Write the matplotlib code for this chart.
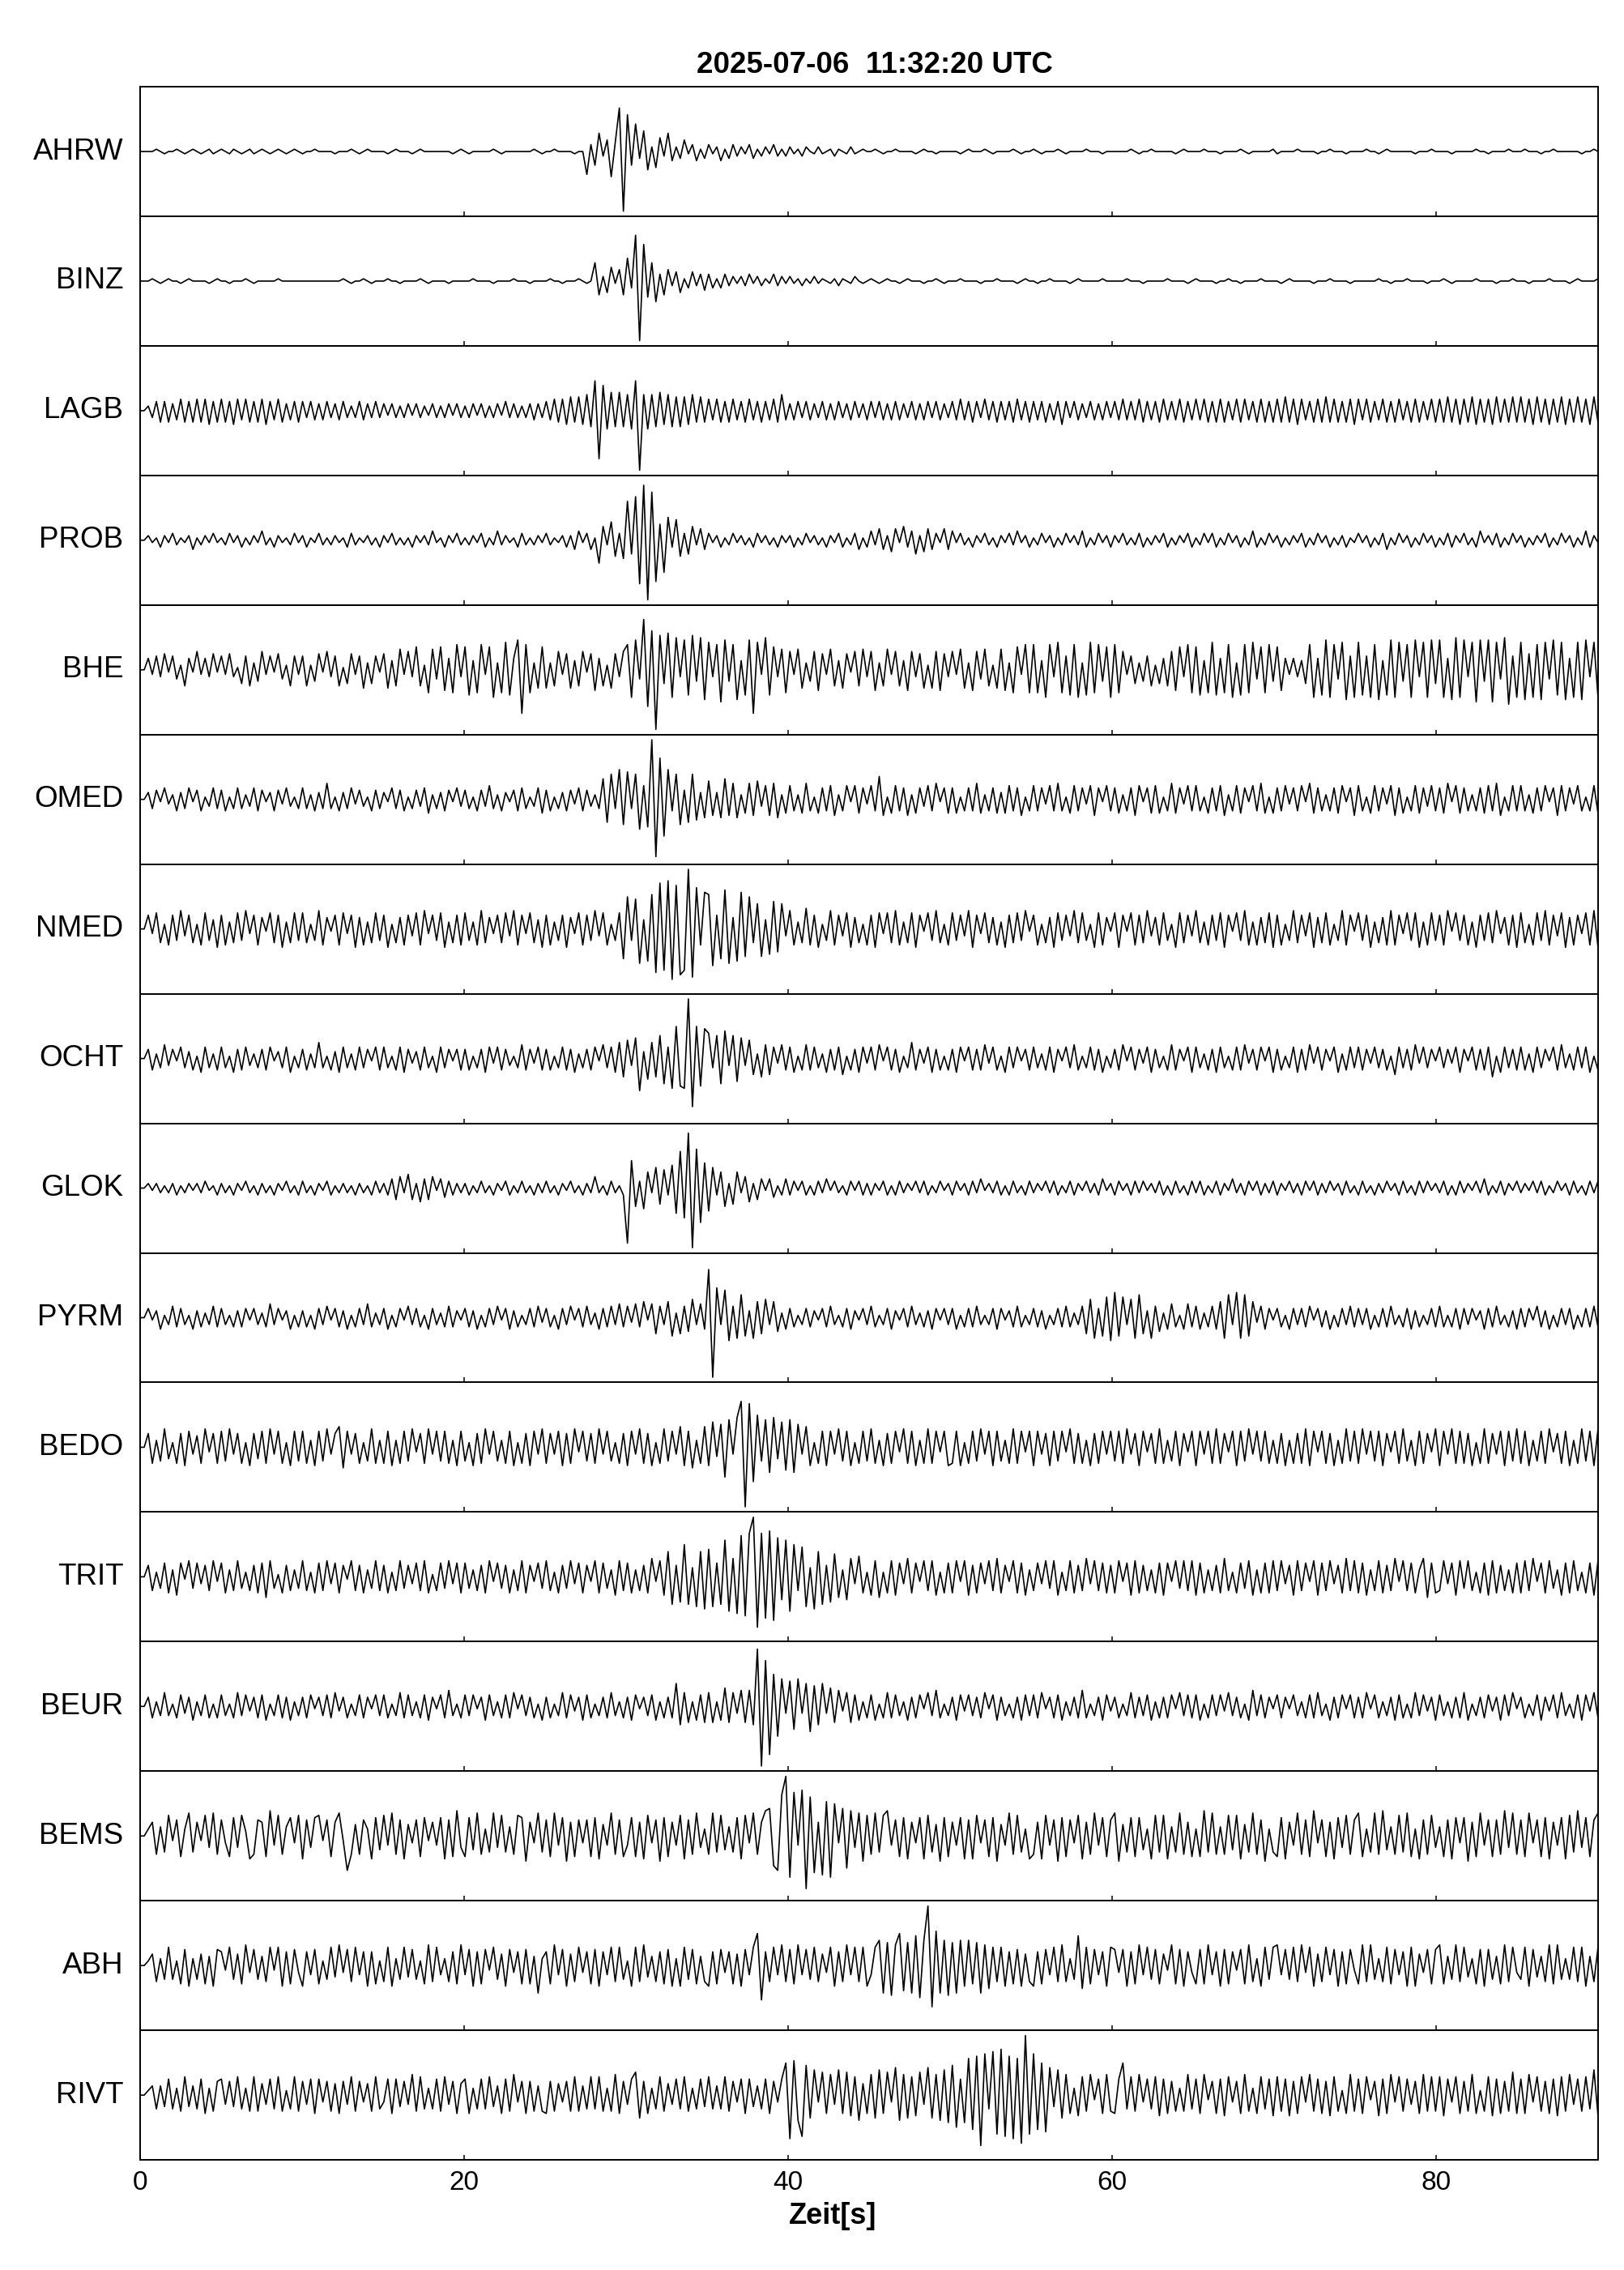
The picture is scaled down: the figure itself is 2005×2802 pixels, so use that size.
import numpy as np
import matplotlib
matplotlib.use('Agg')
import matplotlib.pyplot as plt

plt.rcParams['font.family'] = ['Liberation Sans', 'DejaVu Sans']

# record section, 0.25 s per sample, 20 samples per block
# '0' = 0, 'A'..'Z' = +1..+26, 'a'..'z' = -1..-26 (relative amplitude)
title = '2025-07-06  11:32:20 UTC'
xlabel = 'Zeit[s]'
xticks = [0, 20, 40, 60, 80]
tmax = 90

stations = ['AHRW', 'BINZ', 'LAGB', 'PROB', 'BHE', 'OMED', 'NMED', 'OCHT',
            'GLOK', 'PYRM', 'BEDO', 'TRIT', 'BEUR', 'BEMS', 'ABH', 'RIVT']

ahrw = ("0000A0a00A0a0A0a0Aa0 A0aA0a0Aa0A0a0A0a0A0 a00A0000a000A0a0A000 0a0A000a0A0000000a0A "
        "0a00000A0a0000000A0a 00A0000a00jCfHbEkDSz PfLcIhBgFbHdBcEaCdAc CaBdAcCbBaCcAbBaCbAb "
        "BaAbB0aBa0AbA0aBa0A0 0A0a00A0000a0A00a000 00a0A000A0a0000A0a00 A0a000A0a0000A000a00 "
        "0000A0a00A00000a0A00 00A000a0000A0a00000A a0000A0000a00A000a00 00A00a0A000000a000A0 "
        "000a00000A00a0000A00 0A000a00A000000a00A0")
binz = ("000A0a0A00a0A0000a0A 00a000A0a00000A00000 0000000000A0a00A0a00 0A00a0000A0a0000a000 "
        "00A0000a0000A000a000 0A00a000A0a0HfBeFaEf JcTzPgHiCfEbDeAcDbCd CcAcCbBaBbCaBbAaCbBa "
        "BaAbAaBaA0aAbA0aB0a0 A0a0A00a0A000a00A0a0 00A0000a000A0000a0A0 0a00A0000a0A00000A00 "
        "000A000a00000A0000a0 A0000a00A00a0000A000 0a0A00000a000A0000a0 00000A00a000A0000a00 "
        "0A0a00000A0000a000A0 00a0000A0000a0A0000A")
lagb = ("00BcDeDeCdEeDeEeEfDe EeDfEdEeDeEfDdEeCdDe DcDdCdDcCdDcBcDdCcDc CbCcBcCbCcBbCcBcCbCc "
        "BcCbCcBcCbDcCcBcCdCc DdEeEfFeFfGgMuKhHgHg GhMzGhGgHfGgFgFfGeFe EdEeDeEdDeEdDeDdEeGd "
        "CdDcDdCcDdCdDcCdDcCd DcDdCdDdCcDdCdDcDdCc DdEdDeDcEdDeDdDeEdDe DdDeCdDfDcDdCcDdCdDc "
        "DdEdDdEeDdDeEdDdEeDd EdEeDeEeDdEeEdDeEeDe EeFeEfEdDeEeFeEeDeEf EdEeDdEeDeEdDeEeDdEe "
        "EeFeEfEeFfEeEfFeEeFe FeEfFeEfEeFfEeFeEfFe")
prob = ("00BaAcBaCbAaBdAbBaCa AbCaBcAbBaDbAcBaAbCa BcAaCbAbBaAcCbAaBbAc BaCbAbAcBaBbDaAcBaCb "
        "AbBaCcAbDbBaAcCbAbBa CbAaBcBdDaCdAjFbHgCh QfSsXzUrGnJcIgCfFbEd CaBcAbCaBbAcCaBbAcBa "
        "BcAbCaBbAcBaCcAbCdAc DbEdBeEaFcDfBeEdCaEd DaCbAcBaCbAcBaCbDaBc AbCaBcAbCaBbDcAbCaBc "
        "BaCbAbCcAbBaCcAbBaCc AbCaCcAbCaBcAbDcAbCa BcAbBaCcAbCaBcAbBcAa CaBcAbCdAbCaBcAbCaBc "
        "AbCcBaCbAcDaBbCcAbCa BcAbBaCcAbCaBcAbDcBa")
bhe = ("00EbFcGaFdBgEaHbEcGa FbGcAfFgCeHbFaGdBgFb FgBeGaHcFgAfGbFhCfFa GhDgIbHcJgBjIdJiEjKc "
       "JkDjKbJlCjLkEMsKjChJ hCgHbGhDgHaGiEgBhGcH KlMdVpQzOfPlNcMkOeNm LcKnMeKmDkMsLbNkJcIj "
       "HbIhCeHiGbIgDhGaHgIc HiCgIbHgDiHcGhBhHiGc HbIhCiHdIgBhIiCjJbKj KjDlKcLjFkKlCkLjKeJl "
       "KjHbFfCeFgBfEgHiJcKj JkDjLkEjKlCkKjLdJjKe JiEbEcDfKlEkMlKdLmFl LkFlKmDkMlLeKlMcLlMf "
       "MlEmNlMcLnMeMnLdNoFl LmGlKmLdMkLmElLmMcLl")
omed = ("00CdDaEbBeCdEaDeAcEd DeAdEdBcEeDaCeDbEcAd EdBeCdGdAeCdEbDcAeDd CaEdDeAdDcEfBdCeDaEc "
        "DdAeDcFdBeCaDeEdAcEf DeAdCeDbEeDcBdIjKdMk LdKmFlZyRpMeKkDjKiCh HgChIgGhBfGgHcFgGhBf "
        "FeBfGeAfEeFgBeFaFfEb FeJgAfFeEgBfEcFeGaEf EfAeEeGfBeEfCfFeEgAe FeEbFeGeAfFeEbFgEaFe "
        "EfBeEgFaEfFfAeGfEbFe FeAfEeFgBeFfEaFeGfAf EeFbEeFaGfEeBeEfFaEg FeAfFeEbFgEfAeFfEcFe "
        "EfGaFfEeBeEfFeGgAeFe FeBfEeFaEgFeEbFeAeFf")
nmed = ("00FbGfBgFeHcFfBgGeDh FgCfGeHbFgEaGfFhCfGe GfBeHgEaFgGbFhEgCfGe FhBfEgFcGgHbFeGhCfFg "
        "GeCgHfEbFfGcHgFbGfDh FgCeFhEbGgFeHcGgBeGm NeMoDnOsTrUvStrZuRgP OpFmQoEnPlNfKlDkLjKc "
        "HgCfIgFhBeHgFcGhEfBg FhGbGfHgCfGhFaGeHfBg GeFcHhFbGfEgChFfGeHa FgBfEhGeFcHfGeBhGgEa "
        "GhFaGgFfHcEgGeBhGfFc HfCgFeGhFaGeHgCgEfGh FgBeHfFcGhEfGgBeHgFa GeFhCfEgHgFbGeGhCgGe "
        "FgHaGeFgChFeGfHbEgFh GfBgGeHgFcGhEgFbGgHh")
ocht = ("00DeBdFcDaEdCeAfEdBe EdAfDeEcBdDeEaCdEfAd DeBdGdAeCfEdBeEdDaEe EdAeEfDbCeEdAfEdDaDe "
        "DeAdDfEbEeDcAdFeDbEe DeAdEeDfBdDeEaFdEfGh HcInCiGhJkEmNlmZuNlM KdJkLcJjIcHgBhFgEbFe "
        "EfAeFeEdBfDeEgAeDfEb EeFaEeDfAdGeDbEfDeAe DfEaEeDeFbEeAfEdEaDe EdBeEfDaEdFeAdEeDfAd "
        "DeFaEeDbEfDdAeFeDaEf EdBeDfEdAeEeFbDeEaEf DeAdEfDeFbEeDaEfBeEd EeDbEdDeAgEdDeFbEdDa "
        "EdDbEfDaEeDeEhAfEdDe EeBfEdDaEeFdBeEdEfAe")
glok = ("00BaBbAbBcAbBaBbCaAc BbAcBaCbAcBbAcBaCbAc CbAcBaCcAbBbAcBbAcCb BcDeEbFeBfDeEaDdCcBb "
        "BcAbCbAcBaCcAbCbAcBb CbAcBaCbAcBbEbAcCbAc xLhCiGbIgHcJkPmXzQoK jIcGhBgGbEfBeDaDdAcD "
        "cCaCcAcCbDaCbAcCaCcB cBaCcAcCbBaCbCcAbCaB cCaBcCbDaBbCcAcCbAcC bBaCbCcAbCcBaCbBcDaB "
        "cCaBcCbCaBbCcAcCbAcC bCcAbCcBaDbBcCaCcBbC cBaCbBcCaCcBbCaBcCbA cCbAcBbCaBcCbAcCbCaB "
        "bCcAcCbBaCbDcAbCcBaC bBaCbCcAbCaBcCbAcCbC")
pyrm = ("00DaCeAcEdDcAeCdBcEd DcAdCdDaDcBdFcDaCeAd CdAeDcEaDdCeAdDcFdBc DeAdDaEcDdAeDcBdEdCa "
        "DdCeAdDcEaDeCdAcDdEb DdAeDcEaDdEcBeDdEcFd EbFdGaFgEcGhBgEfHcFe UzMcLjEiJhCiGgHcGfBe "
        "DdAcDdCaDdEcAdDeCaDc EdAcDeCaDdEcBdCeDaDc DeAdDdEcAcDeDaCdEdAc DdCeAcDdEdBcEgHiDhIj "
        "KhIcHiJgCiEfBeFdAeFd EeBdEeGiJcKiJhGbEeDa DdAeDcDdEaDdCeAdDcEd DcDeAdDdEcAdDeCdAcDd "
        "EdAdDeDcDaCeDdEcAdCe DdDaEdCeAdDcDeAdDdEd")
bedo = ("00FgCfHeBgFhGcEgHbFg GfHcFgBhFeGgHcGgBhGf GgChGfHcFIiGcFgBfHgC gGhCgGfHbFgHcGfGgChG "
        "fBhFgHcGfCgGhBgFhGcH gFcGhFgHbGfFgHcGfBgF hGcHgFhBgHfGcIhGiCgI hKdJmLcMTzSoNfLkMeKj "
        "LkJcIhBgGhGcHfGhBgGf HgChFgGbHgGhCgHgGbGh gGhBgGfHcGhGfCgHgGbG hGcFhGfGbHgFgChFgGcG "
        "fGgHcFhGbFgHgCfGhFbG hGcGgHgFbGhGfHcGfGgC gFhCgFgHhGbGgFhCgHfG gHcGfGhFbGgHfChGgFbH "
        "hGcHgGgFhBgHgFcGhGfH gGhCfGgHbFgGhCgHfGhH")
trit = ("00EfBeFgChFaGeFcEfGb FgCfGeBfEgFiGeAgEfCe GfBgFfGcFgEaGfEgCeGf EgBfGeEcFfGgAfFeGcFg "
        "FeCfEgGbFeEgCfGgEbFe GfBgEeGcFgEbGgFeChGf FgCfEgHbGhKlEkNlDmKn LmFlPoHpRqSZvSrTsQjP "
        "oNfMmDnKlEkJiCjHcIgB hGiBgGhFcHgFbGfGhBgF gGbGhEgFcGfHgEbGgFhC fFcGeGhBfGgEfHcGfFgE "
        "gGbFhGgEfCgFhFbGeGfG hFgCfEgHfBgFeGhCgFgG fGcEhGfFbGhFfGcEgHfG gFhCfGgEfHbGfFgCHiFg "
        "fGcFhGeGfBgFhGgEfCgF gGfHbFgGeChFgGfBgFhG")
beur = ("00DeBdFdAeEcDfBdEeAe EdAeFdEbDeEfAdEeDfBd DeEaDdEeFbDeAdEeDaEd EeAdFeEdBeEfDaEeGdAe "
        "EdEaDfEdBeEeFaEdDeAf DeAdFeEbDfEeAdDeFdBe DfEaDdEfBeDeJhFgBfEg FgBfHgFcGgGhYzTuNmLc "
        "KjLcJkIhJcHgGbFgEfBe EfAeFeEdBfDeEaFdGeAd DfEbEdDeFaEfDdAeDfEd EeFaDeEfBdDeGeAdDfEb "
        "DeAdFeDdEfBeDeEaFdEe EfAeEdEbFdDeAfGdEeDa EeDaEdBeEeFdAfDeEaEe DeFaEeBdDfEeAeFdEbDf "
        "EdBeDeFfAdDeEbDfEdFa DeAdEfDbEeFdAeEfEbFe")
bems = ("00CFhDgIbGiCJgFbIeJh GciHeIBjhGFiKdIhDHcI jGeHIbGiFJbohEhGCjHf IdJhGjEcGiHbFdHjGiKe "
        "iHfJhCgJeIgDhIHkFcJg GiJdHkFiGcGiHjEdJhGi dHiFjIcGkHiFdIjGhJeC hJgIfDgHjIcJhFKLmoRZ "
        "rSdTwQpFqOrNcLnKeJkI hJgIKdGiHjFcHjIgEkHi FdHjGjIcGiHkEdJhIgCj hFjIdGkHiGcIjFhJdHiG "
        "JkEgHiHfCjIgIjDgJhFi CiKgJhDhIfIjEgJhGkCg iHjFdJhGiKcGiFjHeIhG JiCgJhKfDhIgJiCjGhIe "
        "DiGjHcHkFiJdGiGhKeJh GiJcGiHjFdHjIgKeHiGJ")
abh = ("00BEgCfHfBhGiCfEhDiG FbHfEhIcGfDgHbHiFhGc iFdGhBfHeIcGgHdFiFhB gHiCfHeGfBhIgHdCgFhI "
       "dGiFhGbHfEiGcFhGhDlC FhIdGiEgHcFhGiFdHgHf BiHgIeDgFhGiCiHfGhDg iFhGcFhEiGdHNoFgHdIg "
       "GhIdGfHgEcHiFgIdHgHi dHKlJmINkJlMnKZrOlKm JlKiKhJlIjHgHiFhGiEg iFhGdHgIgCfMjHhGdFiH "
       "GcGiFhIdHfGhEbIhGiFc hGhIdFiGhFbGhIgCiHfH IdGfHgIcHiEgHdGiFhGb hIgIfCgHhGdFiHiEcGhG "
       "IhDfIgHeChGiGfDhIgHc fHiGeDgIhIfCfHgHiDgH")
rivt = ("00BDfDeGfCgHeDfGhCgF GdFeHfCgHgEdGfHgBfHg FdGhGcFgEhFdHgFcEgHf cGhGeFdIgHfCfGgHdFhE "
        "GhCfGfHeDhGgIcFhFgDg hFgEcFgHgDfHfHgCgIhF dGJjFhCfHgEdGfHgCfGe HfDfHgFcGhGeDfGhFcGN "
        "sOkrMjKcJhIdKhJiHkEh IjKhJcLkIjHiJdLjIkKl MnGlPoQvRfSqTrQsPuZq RoNpLeKjIhCiHgIbGhIg "
        "hGNfHgIcGfHiGhFgCgIf GhIbFhGiHcFhIgChHfGi HgGiFhHcIgGhFiHgBhIg GhHbFiGhIcHgGdFhIgHg "
        "HiGcHhFgIhBgHiGhFgJh GhIcHgFhGiHgIdGgHfKi")

traces = [ahrw, binz, lagb, prob, bhe, omed, nmed, ocht,
          glok, pyrm, bedo, trit, beur, bems, abh, rivt]


def decode(code):
    vals = []
    for c in code.replace(' ', ''):
        if c == '0':
            vals.append(0)
        elif c.isupper():
            vals.append(ord(c) - 64)
        else:
            vals.append(-(ord(c) - 96))
    return np.array(vals, dtype=float)


fig, axes = plt.subplots(len(stations), 1, figsize=(20.05, 28.02), dpi=100,
                         sharex=True)
fig.subplots_adjust(left=0.0863, right=0.984, top=0.9618, bottom=0.0485,
                    hspace=0)

for i, (ax, name, code) in enumerate(zip(axes, stations, traces)):
    y = decode(code)
    y = y / np.abs(y).max() * 0.92
    t = np.linspace(0, tmax, len(y))
    ax.plot(t, y, color='black', lw=1.2)
    ax.set_xlim(0, tmax)
    ax.set_ylim(-1, 1)
    ax.set_yticks([])
    ax.set_xticks(xticks)
    ax.tick_params(axis='x', direction='in', length=4, width=1.1,
                   labelsize=24, pad=9, labelbottom=(i == len(stations) - 1))
    for sp in ax.spines.values():
        sp.set_linewidth(1.4)
    ax.text(-0.0115, 0.5, name, transform=ax.transAxes, ha='right',
            va='center', fontsize=26.5)

fig.text(0.5388, 0.9714, title, ha='center', va='center', fontsize=26.5,
         fontweight='bold')
fig.text(0.5127, 0.0236, xlabel, ha='center', va='center', fontsize=26,
         fontweight='bold')

fig.savefig('out.png', dpi=100)
